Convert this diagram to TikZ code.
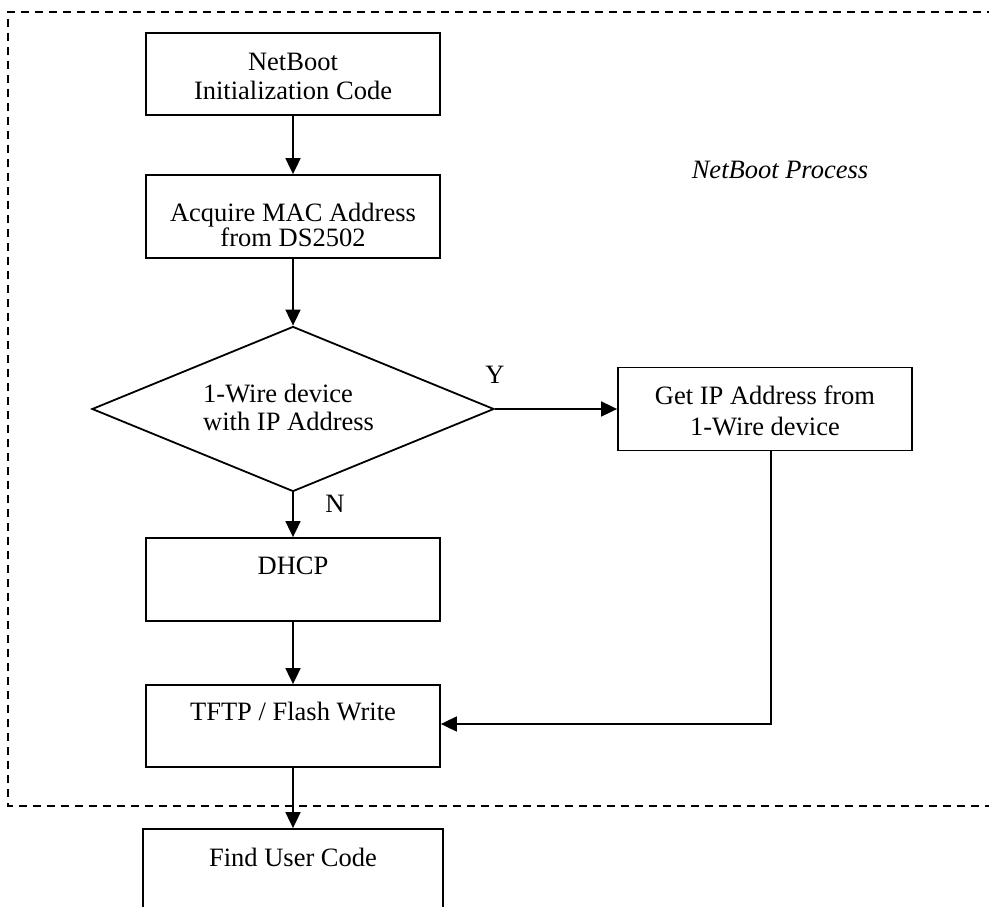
\documentclass[tikz,border=0pt]{standalone}
\usepackage{fontspec}
\setmainfont{Liberation Serif}
\usetikzlibrary{shapes.geometric,arrows.meta}
\begin{document}
\begin{tikzpicture}[x=1pt,y=-1pt,
  box/.style={draw,line width=1.8pt,minimum width=294pt,inner sep=0pt},
  flow/.style={line width=1.8pt,-{Triangle[length=16pt,width=15pt]}},
  txt/.style={font=\fontsize{26.5}{30}\selectfont,inner sep=0pt,align=center},
  frame/.style={line width=1.8pt,dash pattern=on 8pt off 6pt}]
\clip (0,0) rectangle (989,907);

% process frame (open on the right)
\draw[frame] (995,12) -- (8,12) -- (8,806) -- (995,806);

% boxes
\node[box,minimum height=82pt] (init) at (293,74) {};
\node[box,minimum height=83pt] (mac) at (293,216.5) {};
\node[draw,diamond,line width=1.8pt,inner sep=0pt,aspect=2.44,
      minimum width=402pt,minimum height=165pt] (dec) at (293,409) {};
\node[box,minimum height=83pt] (getip) at (765,409) {};
\node[box,minimum height=83pt] (dhcp) at (293,579.5) {};
\node[box,minimum height=82pt] (tftp) at (293,726) {};
\node[box,minimum width=300pt,minimum height=100pt] (user) at (293,879) {};

% texts
\node[txt,font=\fontsize{26.5}{29}\selectfont] (initT) at (293,76.5) {NetBoot\\Initialization Code};
\node[txt,font=\fontsize{26.5}{22}\selectfont] (macT) at (293,225) {Acquire MAC Address\\from DS2502};
\node[txt,font=\fontsize{26.5}{28}\selectfont,align=left,anchor=west] (decT) at (203,407) {1-Wire device\\with IP Address};
\node[txt,font=\fontsize{26.5}{31}\selectfont] (getipT) at (765,411) {Get IP Address from\\1-Wire device};
\node[txt] (dhcpT) at (293,566) {DHCP};
\node[txt] (tftpT) at (293,712) {TFTP / Flash Write};
\node[txt] (userT) at (293,857) {Find User Code};
\node[txt] (yes) at (495,375) {Y};
\node[txt] (no) at (335,504) {N};
\node[txt,font=\fontsize{26.5}{30}\selectfont\itshape] (title) at (780,170) {NetBoot Process};

% connectors
\draw[flow] (init) -- (mac);
\draw[flow] (mac) -- (dec.north);
\draw[flow] (dec.south) -- (dhcp.north);
\draw[flow] (dec.east) -- (getip.west);
\draw[flow] (dhcp) -- (tftp);
\draw[flow] (tftp) -- (user);
\coordinate (bend) at (771,724);
\draw[flow] (bend |- getip.south) -- (bend) -- (bend -| tftp.east);
\end{tikzpicture}
\end{document}
